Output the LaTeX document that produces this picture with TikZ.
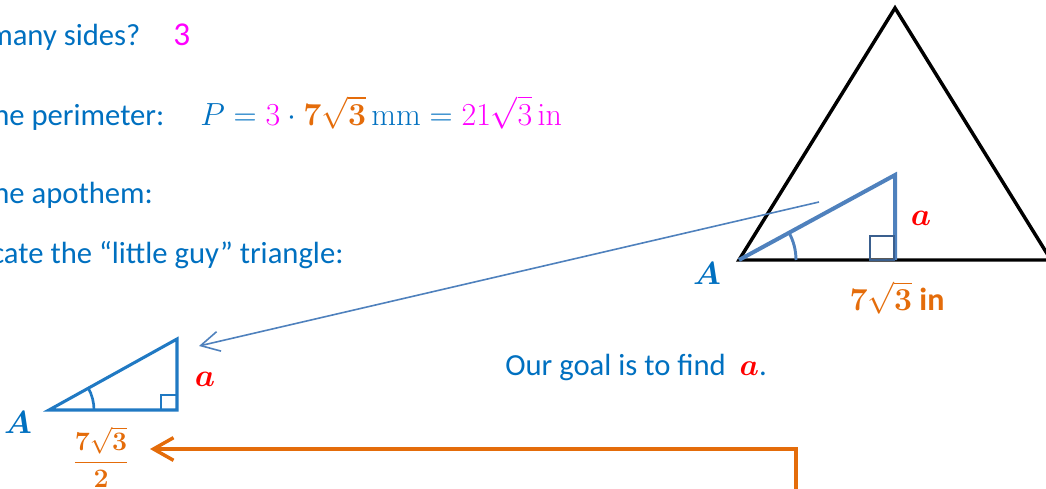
\documentclass[tikz,border=0pt]{standalone}
\usepackage{fix-cm}
\usepackage{amsmath,bm}
\usepackage[no-math]{fontspec}
\setmainfont{Carlito}
\usetikzlibrary{arrows.meta}
\definecolor{txtblue}{HTML}{0070C0}
\definecolor{magent}{HTML}{FF00FF}
\definecolor{orng}{HTML}{E46C0A}
\definecolor{steel}{HTML}{4F81BD}
\definecolor{darksteel}{HTML}{3A5F8E}
\definecolor{tri}{HTML}{2079C3}
\definecolor{redA}{HTML}{FF0000}
\begin{document}
\begin{tikzpicture}[x=0.75pt,y=-0.75pt,
  font=\fontsize{23}{27}\selectfont,
  txt/.style={text=txtblue, anchor=base west, inner sep=0pt},
  lbl/.style={inner sep=0pt},
  bigtri/.style={draw=black, line width=2.6pt, line join=miter},
  innertri/.style={draw=steel, line width=3pt, line join=miter},
  smalltri/.style={draw=tri, line width=2.3pt, line join=miter},
  thinarrow/.style={draw=steel, line width=1.2pt, -{Straight Barb[length=14pt,width=15pt]}},
  orarrow/.style={draw=orng, line width=2.6pt, -{Straight Barb[length=15pt,width=17pt]}}]
\clip (0,0) rectangle (1046,489);
\useasboundingbox (0,0) rectangle (1046,489);

% texts
\node[txt] (t1) at (-12,45) {many sides?};
\node[txt, text=magent] (t1v) at (173,45) {\fontsize{25}{29}\selectfont 3};
\node[txt] (t2) at (-7,125) {he perimeter:};
\node[txt] (t2m) at (200,125) {\fontsize{24}{28}\selectfont$\color{txtblue}P=\color{magent}3\color{txtblue}\cdot\color{orng}\boldsymbol{7}\sqrt{\boldsymbol{3}}\,\color{txtblue}\mathrm{mm}=\color{magent}21\sqrt{3}\,\mathrm{in}$};
\node[txt] (t3) at (-7,203) {he apothem:};
\node[txt] (t4) at (-9,263) {cate the “little guy” triangle:};
\node[txt] (goal) at (505,375) {Our goal is to find \ $\color{redA}\boldsymbol{a}$.};

% big triangle
\coordinate (BA) at (739,260);
\coordinate (BT) at (895,8);
\coordinate (BR) at (1051,260);
\draw[bigtri] (BA)--(BT)--(BR)--cycle;
\coordinate (IT) at (895,175);
\coordinate (IF) at (895,260);
\draw[innertri] (BA)--(IT)--(IF);
\draw[darksteel, line width=2.2pt] (870,260) rectangle (894,236);
\draw[steel, line width=2.2pt] ([shift={(57,0)}]BA) arc[start angle=0, end angle=-28.6, radius=57];
\node[lbl, text=txtblue, font=\fontsize{24}{28}\selectfont] (bA) at (707,274) {$\boldsymbol{A}$};
\node[lbl, text=redA, font=\fontsize{24}{28}\selectfont] (ba) at (921,218) {$\boldsymbol{a}$};
\node[lbl, text=orng] (bb) at (897,298) {\fontsize{24}{28}\selectfont$\boldsymbol{7}\sqrt{\boldsymbol{3}}$\ \textbf{in}};

% small triangle
\coordinate (SA) at (49,410);
\coordinate (ST) at (177,339);
\coordinate (SR) at (177,410);
\draw[smalltri] (SA)--(ST)--(SR)--cycle;
\draw[tri, line width=2pt] (161,410) rectangle (177,395);
\draw[tri, line width=2pt] ([shift={(45,0)}]SA) arc[start angle=0, end angle=-29.2, radius=45];
\node[lbl, text=txtblue, font=\fontsize{24}{28}\selectfont] (sA) at (18,423) {$\boldsymbol{A}$};
\node[lbl, text=redA, font=\fontsize{24}{28}\selectfont] (sa) at (205,379) {$\boldsymbol{a}$};
\node[lbl, text=orng, font=\fontsize{20}{24}\selectfont] (sb) at (101,457) {$\dfrac{\boldsymbol{7}\sqrt{\boldsymbol{3}}}{\boldsymbol{2}}$};

% connectors
\coordinate (arrS) at (819,202);
\coordinate (arrE) at (199,346);
\draw[thinarrow] (arrS) -- (arrE);
\coordinate (oS) at (796,495);
\coordinate (oE) at (150,449);
\draw[orarrow] (oS) |- (oE);
\end{tikzpicture}
\end{document}
